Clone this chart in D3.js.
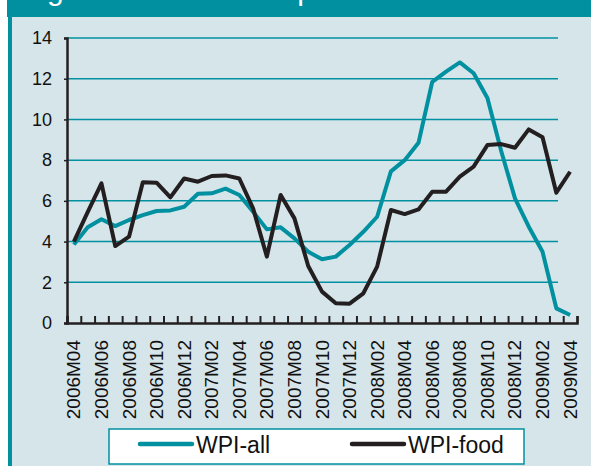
<!DOCTYPE html>
<html lang="en">
<head>
    <meta charset="UTF-8">
    <script src="https://cdn.jsdelivr.net/npm/d3@7"></script>
    <title>WPI inflation</title>
    <style>
        body {
            margin: 0;
            padding: 0;
            background: white;
            font-family: Arial, "Liberation Sans", sans-serif;
        }
        svg { display: block; }
    </style>
</head>
<body>
    <div id="chart"></div>
    <script>
        const months = [
            "2006M04", "2006M05", "2006M06", "2006M07", "2006M08", "2006M09", "2006M10", "2006M11", "2006M12",
            "2007M01", "2007M02", "2007M03", "2007M04", "2007M05", "2007M06", "2007M07", "2007M08", "2007M09",
            "2007M10", "2007M11", "2007M12", "2008M01", "2008M02", "2008M03", "2008M04", "2008M05", "2008M06",
            "2008M07", "2008M08", "2008M09", "2008M10", "2008M11", "2008M12", "2009M01", "2009M02", "2009M03",
            "2009M04"
        ];
        const wpiAll = [
            3.85, 4.7, 5.1, 4.76, 5.06, 5.3, 5.5, 5.53, 5.71,
            6.35, 6.37, 6.6, 6.29, 5.47, 4.6, 4.7, 4.16, 3.5,
            3.13, 3.26, 3.83, 4.48, 5.22, 7.45, 8.0, 8.85, 11.85,
            12.35, 12.8, 12.27, 11.05, 8.45, 6.12, 4.73, 3.5, 0.72,
            0.39
        ];
        const wpiFood = [
            4.0, 5.45, 6.86, 3.78, 4.24, 6.91, 6.89, 6.17, 7.1,
            6.94, 7.22, 7.25, 7.1, 5.63, 3.26, 6.29, 5.14, 2.8,
            1.54, 0.97, 0.95, 1.46, 2.77, 5.55, 5.35, 5.58, 6.45,
            6.45, 7.19, 7.68, 8.74, 8.79, 8.61, 9.51, 9.12, 6.4,
            7.43
        ];
        const yTicks = [0, 2, 4, 6, 8, 10, 12, 14];
        const seriesNames = ["WPI-all", "WPI-food"];

        const teal = "#0090a0";
        const dark = "#231f20";
        const width = 591, height = 466;

        const svg = d3.select("#chart").append("svg")
            .attr("width", width)
            .attr("height", height);

        // panel and header
        svg.append("rect").attr("x", 12).attr("y", 17).attr("width", width - 12).attr("height", height - 17)
            .attr("fill", "#d6e5ea");
        svg.append("rect").attr("x", 7).attr("y", 0).attr("width", width - 7).attr("height", 17)
            .attr("fill", teal);
        svg.append("rect").attr("x", 8).attr("y", 17).attr("width", 4).attr("height", height - 17)
            .attr("fill", teal);
        svg.append("text")
            .attr("x", 22).attr("y", 0)
            .attr("fill", "white")
            .style("font-size", "30px")
            .text("Figure 1. Wholesale price inflation");

        const x = d3.scaleBand().domain(months).range([67, 577]).padding(0);
        const xEdge = d3.scaleLinear().domain([0, months.length]).range([67, 577]);
        const y = d3.scaleLinear().domain([0, 14]).range([323, 38]);
        const cx = d => x(d) + x.bandwidth() / 2;

        // gridlines
        svg.append("g")
            .selectAll("line")
            .data(yTicks.filter(t => t > 0))
            .enter().append("line")
            .attr("x1", 67).attr("x2", 558)
            .attr("y1", d => y(d)).attr("y2", d => y(d))
            .attr("stroke", teal)
            .attr("stroke-width", 1.5);

        // y axis
        const yAxis = svg.append("g")
            .attr("transform", "translate(67,0)")
            .call(d3.axisLeft(y).tickValues(yTicks).tickSize(3).tickPadding(12));
        yAxis.select(".domain").attr("stroke", dark).attr("stroke-width", 2.5);
        yAxis.selectAll(".tick line").attr("stroke", dark).attr("stroke-width", 1.5);
        yAxis.selectAll(".tick text")
            .attr("fill", "#111")
            .style("font-size", "18px")
            .style("font-family", "Arial, 'Liberation Sans', sans-serif");

        // x axis ticks between categories
        const xAxis = svg.append("g")
            .attr("transform", "translate(0,323)")
            .call(d3.axisBottom(xEdge).tickValues(d3.range(months.length + 1)).tickSize(-7).tickFormat(""));
        xAxis.select(".domain").attr("stroke", dark).attr("stroke-width", 2.5);
        xAxis.selectAll(".tick line").attr("stroke", dark).attr("stroke-width", 2);

        // x labels, every other month
        svg.append("g")
            .selectAll("text")
            .data(months.filter((m, i) => i % 2 === 0))
            .enter().append("text")
            .attr("transform", d => `translate(${cx(d)},340) rotate(-90)`)
            .attr("text-anchor", "end")
            .attr("dominant-baseline", "central")
            .attr("fill", "#111")
            .style("font-size", "19px")
            .text(d => d);

        // lines
        const line = d3.line()
            .x((d, i) => cx(months[i]))
            .y(d => y(d));

        svg.append("path")
            .datum(wpiAll)
            .attr("d", line)
            .attr("fill", "none")
            .attr("stroke", teal)
            .attr("stroke-width", 4)
            .attr("stroke-linejoin", "round");

        svg.append("path")
            .datum(wpiFood)
            .attr("d", line)
            .attr("fill", "none")
            .attr("stroke", dark)
            .attr("stroke-width", 4)
            .attr("stroke-linejoin", "round");

        // legend
        const legend = svg.append("g");
        legend.append("rect")
            .attr("x", 109).attr("y", 429).attr("width", 415).attr("height", 35)
            .attr("fill", "white")
            .attr("stroke", teal)
            .attr("stroke-width", 1.5);
        const legendItems = [
            { name: seriesNames[0], color: teal, x0: 140 },
            { name: seriesNames[1], color: dark, x0: 352 }
        ];
        legendItems.forEach(item => {
            legend.append("line")
                .attr("x1", item.x0).attr("x2", item.x0 + 52)
                .attr("y1", 444).attr("y2", 444)
                .attr("stroke", item.color)
                .attr("stroke-width", 4.5)
                .attr("stroke-linecap", "round");
            legend.append("text")
                .attr("x", item.x0 + 56).attr("y", 452.5)
                .attr("fill", "#111")
                .style("font-size", "23px")
                .text(item.name);
        });
    </script>
</body>
</html>
